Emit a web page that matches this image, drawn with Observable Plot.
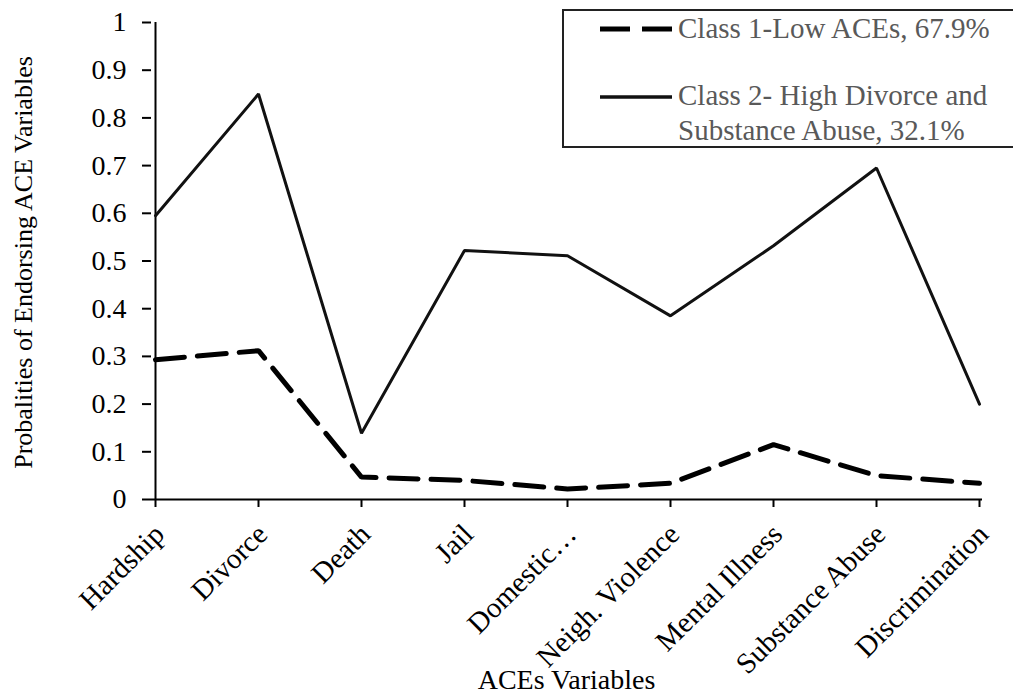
<!DOCTYPE html>
<html>
<head>
<meta charset="utf-8">
<script src="https://cdn.jsdelivr.net/npm/d3@7"></script>
<script src="https://cdn.jsdelivr.net/npm/@observablehq/plot@0.6"></script>
<style>
  html, body { margin: 0; padding: 0; background: #fff; }
  #chart { position: relative; width: 1013px; height: 696px; overflow: hidden; }
</style>
</head>
<body>
<div id="chart"></div>
<script>
const categories = ["Hardship", "Divorce", "Death", "Jail", "Domestic…", "Neigh. Violence", "Mental Illness", "Substance Abuse", "Discrimination"];
const class1Values = [0.293, 0.312, 0.047, 0.040, 0.022, 0.034, 0.115, 0.050, 0.034];
const class2Values = [0.595, 0.850, 0.139, 0.522, 0.511, 0.385, 0.532, 0.695, 0.200];
const seriesNames = ["Class 1-Low ACEs, 67.9%", "Class 2- High Divorce and\nSubstance Abuse, 32.1%"];
const yTicks = [0, 0.1, 0.2, 0.3, 0.4, 0.5, 0.6, 0.7, 0.8, 0.9, 1];
const xTitle = "ACEs Variables";
const yTitle = "Probalities of Endorsing ACE Variables";

const class1 = categories.map((c, i) => ({category: c, value: class1Values[i]}));
const class2 = categories.map((c, i) => ({category: c, value: class2Values[i]}));

const W = 1013, H = 696;
const mL = 151, mR = 31, mT = 22, mB = 197;
const font = "'Liberation Serif', 'Times New Roman', serif";

const plot = Plot.plot({
  width: W,
  height: H,
  marginLeft: mL,
  marginRight: mR,
  marginTop: mT,
  marginBottom: mB,
  style: {fontFamily: font, fontSize: "28px", color: "#000", background: "#fff"},
  x: {type: "point", domain: categories, padding: 0},
  y: {domain: [0, 1]},
  marks: [
    Plot.axisY({
      ticks: yTicks,
      tickSize: 9,
      tickPadding: 16,
      strokeWidth: 2,
      tickFormat: d => d === 0 ? "0" : d === 1 ? "1" : d.toFixed(1),
      label: null,
      fontSize: 28
    }),
    // x tick marks only
    Plot.axisX({
      tickSize: 8,
      strokeWidth: 2,
      tickFormat: () => "",
      label: null
    }),
    // x tick labels only
    Plot.axisX({
      tickSize: 0,
      tickPadding: 30,
      tickRotate: -45,
      label: null,
      fontSize: 29,
      dx: 4
    }),
    Plot.ruleX([categories[0]], {y1: 0, y2: 1, stroke: "#000", strokeWidth: 2}),
    Plot.ruleY([0], {stroke: "#000", strokeWidth: 2}),
    Plot.line(class2, {x: "category", y: "value", stroke: "#111", strokeWidth: 3, strokeLinejoin: "miter"}),
    Plot.line(class1, {x: "category", y: "value", stroke: "#000", strokeWidth: 5, strokeDasharray: "29,13", strokeLinejoin: "miter"})
  ]
});

const svg = d3.select(plot);

// Axis titles
svg.append("text")
  .attr("x", (mL + W - mR) / 2).attr("y", 689)
  .attr("text-anchor", "middle")
  .attr("font-family", font).attr("font-size", 28).attr("fill", "#000")
  .text(xTitle);
svg.append("text")
  .attr("transform", `translate(32,${(mT + H - mB) / 2 + 2}) rotate(-90)`)
  .attr("text-anchor", "middle")
  .attr("font-family", font).attr("font-size", 26).attr("fill", "#000")
  .text(yTitle);

// Legend
const lg = svg.append("g");
lg.append("rect")
  .attr("x", 563).attr("y", 10).attr("width", 460).attr("height", 137)
  .attr("fill", "#fff").attr("stroke", "#222").attr("stroke-width", 2);
lg.append("line")
  .attr("x1", 600).attr("x2", 672).attr("y1", 29).attr("y2", 29)
  .attr("stroke", "#000").attr("stroke-width", 5).attr("stroke-dasharray", "30,12");
lg.append("line")
  .attr("x1", 600).attr("x2", 672).attr("y1", 97).attr("y2", 97)
  .attr("stroke", "#111").attr("stroke-width", 3.5);
const lines = [seriesNames[0], ...seriesNames[1].split("\n")];
const ys = [38, 105, 140];
lines.forEach((t, i) => {
  lg.append("text")
    .attr("x", 678).attr("y", ys[i])
    .attr("text-anchor", "start")
    .attr("font-family", font).attr("font-size", 29).attr("fill", "#595959")
    .text(t);
});

document.getElementById("chart").appendChild(plot);
</script>
</body>
</html>
